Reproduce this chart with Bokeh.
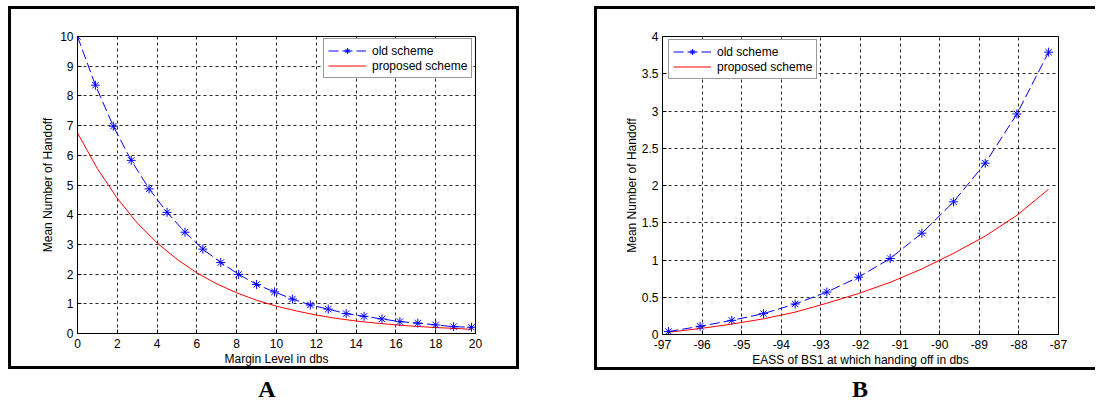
from bokeh.plotting import figure
from bokeh.models import FixedTicker, Legend, LegendItem, Range1d, Div
from bokeh.layouts import row, column
from bokeh.embed import file_html
from bokeh.resources import INLINE

# ---------------- data : panel A ----------------
a_old_x = [0, 0.9, 1.8, 2.7, 3.6, 4.5, 5.4, 6.3, 7.2, 8.1, 9.0, 9.9, 10.8, 11.7,
           12.6, 13.5, 14.4, 15.3, 16.2, 17.1, 18.0, 18.9, 19.8]
a_old_y = [10.0, 8.36, 6.98, 5.83, 4.87, 4.08, 3.41, 2.84, 2.39, 1.99, 1.65, 1.40,
           1.16, 0.96, 0.82, 0.67, 0.58, 0.49, 0.40, 0.35, 0.29, 0.23, 0.21]
a_new_x = [0, 1, 2, 3, 4, 5, 6, 7, 8, 9, 10, 11, 12, 13, 14, 15, 16, 17, 18, 19, 19.8]
a_new_y = [6.75, 5.55, 4.55, 3.72, 3.05, 2.50, 2.04, 1.67, 1.37, 1.12, 0.92, 0.76,
           0.62, 0.51, 0.42, 0.35, 0.29, 0.24, 0.20, 0.17, 0.14]
a_xticks = [0, 2, 4, 6, 8, 10, 12, 14, 16, 18, 20]
a_yticks = [0, 1, 2, 3, 4, 5, 6, 7, 8, 9, 10]
a_xlabel = "Margin Level in dbs"

# ---------------- data : panel B ----------------
b_old_x = [-96.85, -96.05, -95.25, -94.45, -93.65, -92.85, -92.05, -91.25, -90.45,
           -89.65, -88.85, -88.05, -87.25]
b_old_y = [0.04, 0.11, 0.19, 0.28, 0.41, 0.57, 0.77, 1.02, 1.36, 1.78, 2.30, 2.96, 3.79]
b_new_x = [-96.85, -96.05, -95.25, -94.45, -93.65, -92.85, -92.05, -91.25, -90.45,
           -89.65, -88.85, -88.05, -87.25]
b_new_y = [0.03, 0.08, 0.14, 0.21, 0.30, 0.42, 0.55, 0.70, 0.88, 1.09, 1.32, 1.60, 1.95]
b_xticks = [-97, -96, -95, -94, -93, -92, -91, -90, -89, -88, -87]
b_xtick_labels = ["-97", "-96", "-95", "-94", "-93", "-92", "-91", "-90", "-89", "-88", "-87"]
b_yticks = [0, 0.5, 1, 1.5, 2, 2.5, 3, 3.5, 4]
b_ytick_labels = ["0", "0.5", "1", "1.5", "2", "2.5", "3", "3.5", "4"]
b_xlabel = "EASS of BS1 at which handing off in dbs"

ylabel = "Mean Number of Handoff"
series_names = ["old scheme", "proposed scheme"]
panel_letters = ["A", "B"]

FONT = "Liberation Sans"


def style_axis(ax, ticks, overrides=None):
    ax.ticker = FixedTicker(ticks=ticks)
    ax.major_tick_in = 4
    ax.major_tick_out = 0
    ax.minor_tick_line_color = None
    ax.axis_line_color = "black"
    ax.major_tick_line_color = "black"
    ax.major_label_text_font = FONT
    ax.major_label_text_font_size = "12px"
    ax.major_label_text_color = "black"
    ax.major_label_standoff = 4
    ax.axis_label_text_font = FONT
    ax.axis_label_text_font_size = "12px"
    ax.axis_label_text_font_style = "normal"
    ax.axis_label_text_color = "black"
    if overrides:
        ax.major_label_overrides = overrides


def make_panel(xr, yr, xticks, yticks, xlabel, ox, oy, nx, ny, width, height,
               mleft, mright, mtop, mbottom, ystandoff, xover=None, yover=None):
    p = figure(width=width, height=height, x_range=Range1d(*xr), y_range=Range1d(*yr),
               output_backend="svg", toolbar_location=None,
               min_border_left=mleft, min_border_right=mright,
               min_border_top=mtop, min_border_bottom=mbottom)
    p.background_fill_color = "white"
    p.border_fill_color = "white"
    p.outline_line_color = "black"
    style_axis(p.xaxis[0], xticks, overrides=xover)
    style_axis(p.yaxis[0], yticks, overrides=yover)
    p.xaxis[0].major_label_standoff = 5
    p.xaxis[0].axis_label = xlabel
    p.xaxis[0].axis_label_standoff = 1
    p.yaxis[0].axis_label = ylabel
    p.yaxis[0].axis_label_standoff = ystandoff
    p.grid.grid_line_color = "black"
    p.grid.grid_line_dash = "3 3"
    p.grid.grid_line_alpha = 0.85

    r_new = p.line(nx, ny, line_color="#ff0000", line_width=1)
    r_old = p.line(ox, oy, line_color="#0000ff", line_width=1, line_dash="10 4")
    r_mk = p.scatter(ox, oy, marker="asterisk", size=9, line_color="#0000ff", line_width=1)
    return p, r_old, r_mk, r_new


def add_legend(p, r_old, r_mk, r_new, loc):
    leg = Legend(items=[LegendItem(label=series_names[0], renderers=[r_old, r_mk]),
                        LegendItem(label=series_names[1], renderers=[r_new])],
                 location=loc)
    leg.label_text_font = FONT
    leg.label_text_font_size = "12px"
    leg.label_text_color = "black"
    leg.padding = 4
    leg.spacing = 0
    leg.margin = 0
    leg.label_height = 15
    leg.glyph_height = 15
    leg.glyph_width = 38
    leg.label_standoff = 6
    leg.border_line_color = "#333333"
    leg.border_line_width = 1
    leg.background_fill_color = "white"
    leg.background_fill_alpha = 1
    p.add_layout(leg)


pA, ro, rm, rn = make_panel((0, 20), (0, 10), a_xticks, a_yticks, a_xlabel,
                            a_old_x, a_old_y, a_new_x, a_new_y,
                            511, 363, 66, 47, 27, 38, 2)
add_legend(pA, ro, rm, rn, (246, 255))
pA.styles = {"border": "3px solid black"}
pA.margin = (6, 0, 0, 8)

pB, ro, rm, rn = make_panel((-97, -87), (0, 4), b_xticks, b_yticks, b_xlabel,
                            b_old_x, b_old_y, b_new_x, b_new_y,
                            501, 364, 65, 40, 27, 39, 0,
                            xover=dict(zip(b_xticks, b_xtick_labels)),
                            yover=dict(zip(b_yticks, b_ytick_labels)))
add_legend(pB, ro, rm, rn, (6, 255))
pB.styles = {"border": "3px solid black", "border-right": "none"}
pB.margin = (6, 0, 0, 75)

label_style = {"font-family": "Liberation Serif", "font-weight": "bold",
               "font-size": "24px", "line-height": "16px", "color": "black"}
divA = Div(text=panel_letters[0], width=518, height=16, margin=(11, 0, 0, 8),
           styles=dict(label_style, **{"text-align": "center"}))
divB = Div(text=panel_letters[1], width=30, height=16, margin=(11, 0, 0, 326),
           styles=label_style)

layout = column(row(pA, pB), row(divA, divB))

open("out.html", "w").write(file_html(layout, INLINE))
